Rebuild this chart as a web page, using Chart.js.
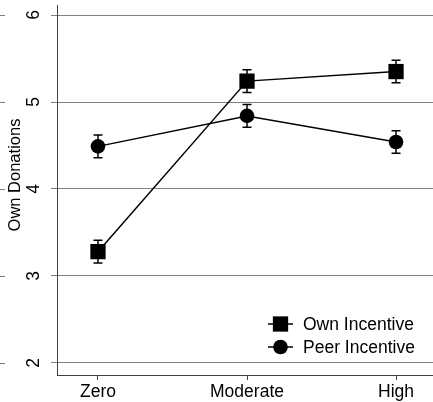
<!DOCTYPE html>
<html>
<head>
<meta charset="utf-8">
<script src="https://cdn.jsdelivr.net/npm/chart.js@4"></script>
<style>
  html, body { margin: 0; padding: 0; background: #fff; }
  #wrap { width: 433px; height: 402px; }
</style>
</head>
<body>
<div id="wrap"><canvas id="chart" width="433" height="402"></canvas></div>
<script>
// categories and series
const categories = ['Zero', 'Moderate', 'High'];
const ownValues = [3.28, 5.24, 5.35];
const ownErr = [0.13, 0.13, 0.13];
const peerValues = [4.49, 4.84, 4.54];
const peerErr = [0.13, 0.13, 0.13];
const yTicks = [2, 3, 4, 5, 6];

const FONT = '"Liberation Sans", Arial, sans-serif';

// error bars, drawn through the chart scales
const errorBars = {
    id: 'errorBars',
    beforeDatasetsDraw(chart) {
        const ctx = chart.ctx;
        const xs = chart.scales.x, ys = chart.scales.y;
        const errs = [ownErr, peerErr];
        ctx.save();
        ctx.strokeStyle = '#000';
        ctx.lineWidth = 1.5;
        chart.data.datasets.forEach((ds, di) => {
            ds.data.forEach((p, i) => {
                const x = xs.getPixelForValue(p.x);
                const top = ys.getPixelForValue(p.y + errs[di][i]);
                const bot = ys.getPixelForValue(p.y - errs[di][i]);
                ctx.beginPath();
                ctx.moveTo(x, top); ctx.lineTo(x, bot);
                ctx.moveTo(x - 4.5, top); ctx.lineTo(x + 4.5, top);
                ctx.moveTo(x - 4.5, bot); ctx.lineTo(x + 4.5, bot);
                ctx.stroke();
            });
        });
        ctx.restore();
    }
};

// rotated y tick labels, axis title and legend
const decorations = {
    id: 'decorations',
    afterDraw(chart) {
        const ctx = chart.ctx;
        const ys = chart.scales.y;
        const area = chart.chartArea;
        ctx.save();
        ctx.fillStyle = '#000';
        ctx.font = '17.5px ' + FONT;
        ctx.textAlign = 'center';
        ctx.textBaseline = 'middle';
        yTicks.forEach(v => {
            const y = ys.getPixelForValue(v);
            ctx.save();
            ctx.translate(area.left - 23, y);
            ctx.rotate(-Math.PI / 2);
            ctx.fillText(String(v), 0, 0);
            ctx.restore();
            // stray gridline stubs at the left edge
            ctx.save();
            ctx.strokeStyle = '#808080';
            ctx.lineWidth = 1;
            ctx.beginPath();
            ctx.moveTo(0, Math.round(y) + 0.5);
            ctx.lineTo(5, Math.round(y) + 0.5);
            ctx.stroke();
            ctx.restore();
        });

        // y title
        ctx.save();
        ctx.font = '16.5px ' + FONT;
        ctx.translate(15, (area.top + area.bottom) / 2 - 15);
        ctx.rotate(-Math.PI / 2);
        ctx.fillText('Own Donations', 0, 0);
        ctx.restore();

        // legend
        ctx.textAlign = 'left';
        chart.data.datasets.forEach((ds, i) => {
            const y = area.bottom - 51 + i * 23;
            const x0 = area.right - 165;
            ctx.strokeStyle = '#000';
            ctx.lineWidth = 1.5;
            ctx.beginPath();
            ctx.moveTo(x0, y); ctx.lineTo(x0 + 25, y);
            ctx.stroke();
            ctx.fillStyle = '#000';
            Chart.helpers.drawPoint(ctx, {
                pointStyle: ds.pointStyle,
                radius: ds.pointRadius,
                rotation: 0,
                borderWidth: 0
            }, x0 + 12.5, y);
            ctx.fillStyle = '#000';
            ctx.font = '17.5px ' + FONT;
            ctx.fillText(ds.label, x0 + 35, y + 1);
        });
        ctx.restore();
    }
};

function makeData(values) {
    return values.map((v, i) => ({ x: i, y: v }));
}

new Chart(document.getElementById('chart'), {
    type: 'line',
    data: {
        datasets: [{
            label: 'Own Incentive',
            data: makeData(ownValues),
            borderColor: '#000',
            backgroundColor: '#000',
            borderWidth: 1.5,
            pointStyle: 'rect',
            pointRadius: 10.8,
            pointBorderWidth: 0,
            tension: 0
        }, {
            label: 'Peer Incentive',
            data: makeData(peerValues),
            borderColor: '#000',
            backgroundColor: '#000',
            borderWidth: 1.5,
            pointStyle: 'circle',
            pointRadius: 7.3,
            pointBorderWidth: 0,
            tension: 0
        }]
    },
    options: {
        responsive: false,
        animation: false,
        devicePixelRatio: 1,
        clip: false,
        layout: { autoPadding: false, padding: { top: 5, right: 0, left: 0, bottom: 0 } },
        plugins: {
            legend: { display: false },
            tooltip: { enabled: false }
        },
        scales: {
            x: {
                type: 'linear',
                min: -0.275,
                max: 2.248,
                afterBuildTicks: s => { s.ticks = categories.map((c, i) => ({ value: i })); },
                afterFit: s => { s.height = 27; s.paddingLeft = 0; s.paddingRight = 0; },
                ticks: {
                    callback: v => categories[v],
                    color: '#000',
                    font: { family: FONT, size: 17.5 },
                    padding: 2,
                    maxRotation: 0,
                    autoSkip: false
                },
                grid: {
                    drawOnChartArea: false,
                    drawTicks: true,
                    tickLength: 5,
                    color: '#404040',
                    lineWidth: 1
                },
                border: { display: true, color: '#404040', width: 1 }
            },
            y: {
                min: 1.862,
                max: 6.115,
                afterBuildTicks: s => { s.ticks = yTicks.map(v => ({ value: v })); },
                afterFit: s => { s.width = 57; s.paddingTop = 0; s.paddingBottom = 0; },
                ticks: { display: false },
                grid: {
                    drawTicks: true,
                    tickLength: 6,
                    color: '#808080',
                    lineWidth: 1
                },
                border: { display: true, color: '#404040', width: 1 }
            }
        }
    },
    plugins: [errorBars, decorations]
});
</script>
</body>
</html>
